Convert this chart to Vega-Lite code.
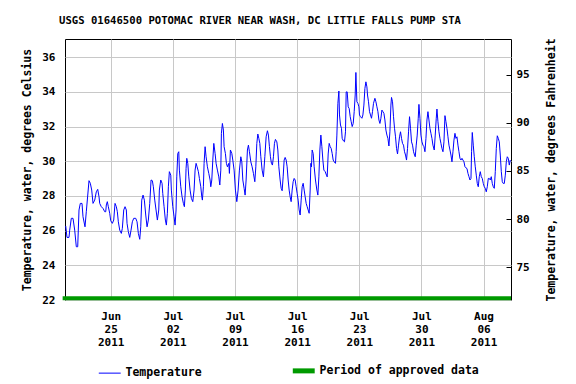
{
  "$schema": "https://vega.github.io/schema/vega-lite/v6.json",
  "width": 446,
  "height": 261,
  "autosize": {"type": "none"},
  "padding": {"left": 65, "top": 39, "right": 65, "bottom": 84},
  "background": "white",
  "title": {
    "text": "USGS 01646500 POTOMAC RIVER NEAR WASH, DC LITTLE FALLS PUMP STA",
    "font": "DejaVu Sans Mono",
    "fontSize": 10.6,
    "fontWeight": "bold",
    "color": "black",
    "anchor": "middle",
    "dx": -28,
    "offset": 11
  },
  "config": {
    "view": {"stroke": "black", "strokeWidth": 1},
    "font": "DejaVu Sans Mono",
    "axis": {
      "labelFont": "DejaVu Sans Mono",
      "labelFontWeight": "bold",
      "labelFontSize": 11,
      "labelColor": "black",
      "titleFont": "DejaVu Sans Mono",
      "titleFontWeight": "bold",
      "titleFontSize": 11.5,
      "titleColor": "black",
      "gridColor": "#c8c8c8",
      "gridOpacity": 1,
      "gridWidth": 1,
      "domain": false,
      "ticks": false,
      "tickSize": 0
    }
  },
  "datasets": {
    "temperature": [
      {"time":"2011-06-19T22:15","temp":26.27},
      {"time":"2011-06-20T01:46","temp":25.61},
      {"time":"2011-06-20T07:11","temp":25.61},
      {"time":"2011-06-20T09:04","temp":26.03},
      {"time":"2011-06-20T13:24","temp":26.71},
      {"time":"2011-06-20T18:00","temp":26.71},
      {"time":"2011-06-20T22:36","temp":26.03},
      {"time":"2011-06-21T02:56","temp":25.07},
      {"time":"2011-06-21T06:43","temp":25.07},
      {"time":"2011-06-21T10:14","temp":27.19},
      {"time":"2011-06-21T13:45","temp":27.57},
      {"time":"2011-06-21T18:21","temp":27.57},
      {"time":"2011-06-21T21:04","temp":26.80},
      {"time":"2011-06-22T02:28","temp":26.22},
      {"time":"2011-06-22T05:59","temp":27.09},
      {"time":"2011-06-22T13:17","temp":28.88},
      {"time":"2011-06-22T16:49","temp":28.73},
      {"time":"2011-06-22T20:35","temp":28.34},
      {"time":"2011-06-23T00:07","temp":27.57},
      {"time":"2011-06-23T04:43","temp":27.76},
      {"time":"2011-06-23T09:02","temp":28.24},
      {"time":"2011-06-23T12:50","temp":28.38},
      {"time":"2011-06-23T16:20","temp":27.95},
      {"time":"2011-06-23T18:14","temp":27.57},
      {"time":"2011-06-23T22:34","temp":27.38},
      {"time":"2011-06-24T03:10","temp":27.28},
      {"time":"2011-06-24T07:46","temp":27.09},
      {"time":"2011-06-24T10:28","temp":27.09},
      {"time":"2011-06-24T12:05","temp":27.48},
      {"time":"2011-06-24T14:48","temp":27.67},
      {"time":"2011-06-24T17:30","temp":27.38},
      {"time":"2011-06-24T21:17","temp":27.00},
      {"time":"2011-06-25T00:00","temp":26.57},
      {"time":"2011-06-25T04:20","temp":26.42},
      {"time":"2011-06-25T08:07","temp":26.61},
      {"time":"2011-06-25T11:38","temp":27.57},
      {"time":"2011-06-25T15:09","temp":27.38},
      {"time":"2011-06-25T17:52","temp":27.09},
      {"time":"2011-06-25T20:34","temp":26.51},
      {"time":"2011-06-26T00:21","temp":26.03},
      {"time":"2011-06-26T04:41","temp":25.84},
      {"time":"2011-06-26T07:23","temp":26.13},
      {"time":"2011-06-26T11:10","temp":27.19},
      {"time":"2011-06-26T14:41","temp":27.38},
      {"time":"2011-06-26T18:12","temp":27.19},
      {"time":"2011-06-26T20:06","temp":26.42},
      {"time":"2011-06-26T23:37","temp":25.94},
      {"time":"2011-06-27T03:24","temp":25.61},
      {"time":"2011-06-27T06:55","temp":26.03},
      {"time":"2011-06-27T10:26","temp":26.51},
      {"time":"2011-06-27T14:14","temp":26.71},
      {"time":"2011-06-27T19:38","temp":26.71},
      {"time":"2011-06-27T23:09","temp":26.51},
      {"time":"2011-06-28T02:40","temp":25.84},
      {"time":"2011-06-28T06:28","temp":25.50},
      {"time":"2011-06-28T09:10","temp":26.22},
      {"time":"2011-06-28T11:52","temp":27.76},
      {"time":"2011-06-28T15:23","temp":28.05},
      {"time":"2011-06-28T18:54","temp":27.76},
      {"time":"2011-06-28T22:41","temp":26.90},
      {"time":"2011-06-29T02:13","temp":26.22},
      {"time":"2011-06-29T05:44","temp":26.61},
      {"time":"2011-06-29T09:31","temp":27.57},
      {"time":"2011-06-29T13:02","temp":28.92},
      {"time":"2011-06-29T16:33","temp":28.88},
      {"time":"2011-06-29T19:15","temp":28.53},
      {"time":"2011-06-29T23:02","temp":27.76},
      {"time":"2011-06-30T02:34","temp":27.19},
      {"time":"2011-06-30T06:05","temp":26.61},
      {"time":"2011-06-30T09:52","temp":27.19},
      {"time":"2011-06-30T11:29","temp":28.34},
      {"time":"2011-06-30T15:16","temp":28.92},
      {"time":"2011-06-30T18:47","temp":28.73},
      {"time":"2011-06-30T20:41","temp":28.15},
      {"time":"2011-07-01T00:12","temp":27.38},
      {"time":"2011-07-01T03:43","temp":26.61},
      {"time":"2011-07-01T06:25","temp":26.32},
      {"time":"2011-07-01T09:08","temp":27.00},
      {"time":"2011-07-01T11:50","temp":28.53},
      {"time":"2011-07-01T14:32","temp":29.40},
      {"time":"2011-07-01T18:20","temp":29.20},
      {"time":"2011-07-01T19:57","temp":28.34},
      {"time":"2011-07-01T23:44","temp":27.38},
      {"time":"2011-07-02T03:16","temp":26.80},
      {"time":"2011-07-02T05:58","temp":26.32},
      {"time":"2011-07-02T08:40","temp":27.19},
      {"time":"2011-07-02T10:34","temp":29.10},
      {"time":"2011-07-02T13:16","temp":30.45},
      {"time":"2011-07-02T15:58","temp":30.55},
      {"time":"2011-07-02T17:36","temp":29.49},
      {"time":"2011-07-02T21:23","temp":28.53},
      {"time":"2011-07-03T00:54","temp":27.95},
      {"time":"2011-07-03T04:25","temp":27.57},
      {"time":"2011-07-03T07:07","temp":27.38},
      {"time":"2011-07-03T09:50","temp":28.34},
      {"time":"2011-07-03T11:43","temp":29.59},
      {"time":"2011-07-03T13:37","temp":30.17},
      {"time":"2011-07-03T16:19","temp":29.88},
      {"time":"2011-07-03T19:02","temp":29.10},
      {"time":"2011-07-03T22:33","temp":28.34},
      {"time":"2011-07-04T02:04","temp":27.86},
      {"time":"2011-07-04T05:51","temp":27.67},
      {"time":"2011-07-04T09:22","temp":28.34},
      {"time":"2011-07-04T12:04","temp":29.49},
      {"time":"2011-07-04T14:47","temp":29.88},
      {"time":"2011-07-04T17:29","temp":29.68},
      {"time":"2011-07-04T21:00","temp":29.40},
      {"time":"2011-07-04T23:43","temp":29.01},
      {"time":"2011-07-05T03:30","temp":28.53},
      {"time":"2011-07-05T06:12","temp":27.95},
      {"time":"2011-07-05T07:49","temp":27.76},
      {"time":"2011-07-05T10:32","temp":28.53},
      {"time":"2011-07-05T12:25","temp":29.88},
      {"time":"2011-07-05T15:08","temp":30.84},
      {"time":"2011-07-05T17:50","temp":30.26},
      {"time":"2011-07-05T21:21","temp":29.68},
      {"time":"2011-07-06T01:08","temp":29.30},
      {"time":"2011-07-06T04:40","temp":28.92},
      {"time":"2011-07-06T06:33","temp":28.53},
      {"time":"2011-07-06T09:15","temp":28.92},
      {"time":"2011-07-06T11:58","temp":30.07},
      {"time":"2011-07-06T14:40","temp":31.03},
      {"time":"2011-07-06T18:11","temp":30.45},
      {"time":"2011-07-06T20:53","temp":29.88},
      {"time":"2011-07-07T00:25","temp":29.49},
      {"time":"2011-07-07T04:11","temp":29.10},
      {"time":"2011-07-07T06:54","temp":28.63},
      {"time":"2011-07-07T09:36","temp":29.49},
      {"time":"2011-07-07T11:14","temp":31.61},
      {"time":"2011-07-07T13:56","temp":32.18},
      {"time":"2011-07-07T16:38","temp":31.80},
      {"time":"2011-07-07T18:32","temp":30.84},
      {"time":"2011-07-07T22:03","temp":30.45},
      {"time":"2011-07-08T00:45","temp":29.88},
      {"time":"2011-07-08T03:28","temp":29.68},
      {"time":"2011-07-08T07:15","temp":29.88},
      {"time":"2011-07-08T08:52","temp":29.30},
      {"time":"2011-07-08T11:35","temp":30.65},
      {"time":"2011-07-08T15:22","temp":30.45},
      {"time":"2011-07-08T18:04","temp":30.07},
      {"time":"2011-07-08T21:35","temp":29.49},
      {"time":"2011-07-09T01:06","temp":28.34},
      {"time":"2011-07-09T04:53","temp":27.67},
      {"time":"2011-07-09T08:25","temp":28.34},
      {"time":"2011-07-09T11:56","temp":29.49},
      {"time":"2011-07-09T15:43","temp":30.26},
      {"time":"2011-07-09T18:25","temp":29.97},
      {"time":"2011-07-09T21:07","temp":28.92},
      {"time":"2011-07-10T00:38","temp":28.44},
      {"time":"2011-07-10T03:21","temp":28.05},
      {"time":"2011-07-10T06:03","temp":28.92},
      {"time":"2011-07-10T09:34","temp":30.65},
      {"time":"2011-07-10T12:17","temp":30.93},
      {"time":"2011-07-10T14:59","temp":30.55},
      {"time":"2011-07-10T18:46","temp":29.97},
      {"time":"2011-07-10T22:17","temp":29.68},
      {"time":"2011-07-11T01:48","temp":29.30},
      {"time":"2011-07-11T05:35","temp":28.82},
      {"time":"2011-07-11T08:18","temp":29.68},
      {"time":"2011-07-11T11:00","temp":31.03},
      {"time":"2011-07-11T13:43","temp":31.57},
      {"time":"2011-07-11T16:25","temp":31.32},
      {"time":"2011-07-11T19:07","temp":31.03},
      {"time":"2011-07-11T21:49","temp":30.26},
      {"time":"2011-07-12T01:20","temp":29.49},
      {"time":"2011-07-12T04:52","temp":29.10},
      {"time":"2011-07-12T08:39","temp":30.26},
      {"time":"2011-07-12T12:10","temp":31.41},
      {"time":"2011-07-12T15:41","temp":31.76},
      {"time":"2011-07-12T18:23","temp":31.51},
      {"time":"2011-07-12T21:05","temp":30.84},
      {"time":"2011-07-12T23:48","temp":30.26},
      {"time":"2011-07-13T02:30","temp":29.88},
      {"time":"2011-07-13T05:13","temp":29.78},
      {"time":"2011-07-13T07:55","temp":30.26},
      {"time":"2011-07-13T10:37","temp":31.03},
      {"time":"2011-07-13T13:19","temp":31.26},
      {"time":"2011-07-13T17:07","temp":31.12},
      {"time":"2011-07-13T19:49","temp":30.65},
      {"time":"2011-07-13T22:31","temp":29.68},
      {"time":"2011-07-14T02:02","temp":28.92},
      {"time":"2011-07-14T04:45","temp":28.44},
      {"time":"2011-07-14T07:27","temp":28.30},
      {"time":"2011-07-14T10:10","temp":29.10},
      {"time":"2011-07-14T12:52","temp":30.07},
      {"time":"2011-07-14T15:34","temp":30.22},
      {"time":"2011-07-14T18:16","temp":30.07},
      {"time":"2011-07-14T20:59","temp":29.68},
      {"time":"2011-07-14T23:41","temp":28.92},
      {"time":"2011-07-15T02:23","temp":28.34},
      {"time":"2011-07-15T05:06","temp":27.95},
      {"time":"2011-07-15T07:48","temp":27.67},
      {"time":"2011-07-15T10:31","temp":28.34},
      {"time":"2011-07-15T13:13","temp":28.82},
      {"time":"2011-07-15T15:55","temp":29.01},
      {"time":"2011-07-15T18:37","temp":28.92},
      {"time":"2011-07-15T21:20","temp":28.53},
      {"time":"2011-07-16T00:02","temp":28.15},
      {"time":"2011-07-16T02:44","temp":27.76},
      {"time":"2011-07-16T05:26","temp":27.19},
      {"time":"2011-07-16T08:09","temp":26.90},
      {"time":"2011-07-16T10:52","temp":27.76},
      {"time":"2011-07-16T13:34","temp":28.53},
      {"time":"2011-07-16T16:16","temp":28.73},
      {"time":"2011-07-16T18:58","temp":28.34},
      {"time":"2011-07-16T21:41","temp":27.95},
      {"time":"2011-07-17T00:23","temp":27.57},
      {"time":"2011-07-17T03:05","temp":27.38},
      {"time":"2011-07-17T05:47","temp":27.19},
      {"time":"2011-07-17T08:30","temp":27.00},
      {"time":"2011-07-17T11:13","temp":28.34},
      {"time":"2011-07-17T13:06","temp":29.88},
      {"time":"2011-07-17T14:43","temp":29.68},
      {"time":"2011-07-17T16:37","temp":30.65},
      {"time":"2011-07-17T19:19","temp":30.45},
      {"time":"2011-07-17T22:02","temp":29.68},
      {"time":"2011-07-18T01:32","temp":28.92},
      {"time":"2011-07-18T05:20","temp":28.34},
      {"time":"2011-07-18T08:02","temp":28.05},
      {"time":"2011-07-18T10:44","temp":29.10},
      {"time":"2011-07-18T13:27","temp":30.65},
      {"time":"2011-07-18T16:09","temp":31.51},
      {"time":"2011-07-18T18:52","temp":30.84},
      {"time":"2011-07-18T21:34","temp":30.07},
      {"time":"2011-07-19T00:16","temp":29.49},
      {"time":"2011-07-19T03:47","temp":29.40},
      {"time":"2011-07-19T07:19","temp":29.20},
      {"time":"2011-07-19T09:12","temp":29.10},
      {"time":"2011-07-19T11:54","temp":30.42},
      {"time":"2011-07-19T14:37","temp":31.03},
      {"time":"2011-07-19T17:19","temp":30.84},
      {"time":"2011-07-19T20:01","temp":30.74},
      {"time":"2011-07-19T22:44","temp":30.45},
      {"time":"2011-07-20T01:26","temp":30.07},
      {"time":"2011-07-20T04:08","temp":29.97},
      {"time":"2011-07-20T07:39","temp":29.88},
      {"time":"2011-07-20T09:33","temp":30.55},
      {"time":"2011-07-20T11:26","temp":31.51},
      {"time":"2011-07-20T14:09","temp":33.34},
      {"time":"2011-07-20T16:51","temp":34.05},
      {"time":"2011-07-20T18:29","temp":32.67},
      {"time":"2011-07-20T21:11","temp":32.09},
      {"time":"2011-07-20T23:53","temp":31.90},
      {"time":"2011-07-21T01:47","temp":31.32},
      {"time":"2011-07-21T05:18","temp":31.17},
      {"time":"2011-07-21T08:00","temp":31.12},
      {"time":"2011-07-21T10:43","temp":31.70},
      {"time":"2011-07-21T12:36","temp":34.00},
      {"time":"2011-07-21T15:19","temp":34.00},
      {"time":"2011-07-21T18:01","temp":33.14},
      {"time":"2011-07-21T20:43","temp":33.04},
      {"time":"2011-07-21T23:26","temp":32.57},
      {"time":"2011-07-22T02:08","temp":32.28},
      {"time":"2011-07-22T04:50","temp":32.00},
      {"time":"2011-07-22T07:32","temp":32.18},
      {"time":"2011-07-22T10:15","temp":32.86},
      {"time":"2011-07-22T12:57","temp":33.82},
      {"time":"2011-07-22T14:50","temp":35.12},
      {"time":"2011-07-22T17:33","temp":33.43},
      {"time":"2011-07-22T20:16","temp":33.34},
      {"time":"2011-07-22T22:58","temp":33.14},
      {"time":"2011-07-23T00:35","temp":32.67},
      {"time":"2011-07-23T03:17","temp":32.57},
      {"time":"2011-07-23T07:05","temp":32.48},
      {"time":"2011-07-23T09:47","temp":32.67},
      {"time":"2011-07-23T12:29","temp":33.24},
      {"time":"2011-07-23T15:12","temp":34.20},
      {"time":"2011-07-23T17:54","temp":34.58},
      {"time":"2011-07-23T20:37","temp":34.29},
      {"time":"2011-07-23T22:14","temp":33.82},
      {"time":"2011-07-24T00:56","temp":33.43},
      {"time":"2011-07-24T03:38","temp":32.86},
      {"time":"2011-07-24T06:21","temp":32.67},
      {"time":"2011-07-24T09:03","temp":32.48},
      {"time":"2011-07-24T11:46","temp":32.86},
      {"time":"2011-07-24T14:28","temp":33.34},
      {"time":"2011-07-24T18:15","temp":33.63},
      {"time":"2011-07-24T20:58","temp":33.43},
      {"time":"2011-07-24T23:40","temp":33.14},
      {"time":"2011-07-25T02:22","temp":32.86},
      {"time":"2011-07-25T05:04","temp":32.38},
      {"time":"2011-07-25T07:47","temp":32.18},
      {"time":"2011-07-25T10:29","temp":32.48},
      {"time":"2011-07-25T13:11","temp":32.95},
      {"time":"2011-07-25T15:53","temp":32.86},
      {"time":"2011-07-25T18:36","temp":32.76},
      {"time":"2011-07-25T21:19","temp":32.38},
      {"time":"2011-07-26T00:01","temp":31.80},
      {"time":"2011-07-26T02:43","temp":31.51},
      {"time":"2011-07-26T05:25","temp":31.32},
      {"time":"2011-07-26T08:08","temp":30.88},
      {"time":"2011-07-26T10:50","temp":31.70},
      {"time":"2011-07-26T13:32","temp":33.24},
      {"time":"2011-07-26T15:10","temp":33.68},
      {"time":"2011-07-26T17:52","temp":33.43},
      {"time":"2011-07-26T20:34","temp":32.57},
      {"time":"2011-07-26T23:17","temp":31.90},
      {"time":"2011-07-27T01:59","temp":31.41},
      {"time":"2011-07-27T04:41","temp":30.74},
      {"time":"2011-07-27T07:23","temp":30.42},
      {"time":"2011-07-27T10:06","temp":30.93},
      {"time":"2011-07-27T12:49","temp":31.41},
      {"time":"2011-07-27T15:31","temp":31.70},
      {"time":"2011-07-27T18:13","temp":31.32},
      {"time":"2011-07-27T20:55","temp":31.03},
      {"time":"2011-07-27T23:38","temp":30.93},
      {"time":"2011-07-28T02:20","temp":30.55},
      {"time":"2011-07-28T05:02","temp":30.36},
      {"time":"2011-07-28T07:44","temp":30.07},
      {"time":"2011-07-28T10:27","temp":30.74},
      {"time":"2011-07-28T13:10","temp":31.70},
      {"time":"2011-07-28T15:52","temp":32.57},
      {"time":"2011-07-28T18:34","temp":31.90},
      {"time":"2011-07-28T21:16","temp":31.12},
      {"time":"2011-07-28T23:59","temp":30.93},
      {"time":"2011-07-29T02:41","temp":30.55},
      {"time":"2011-07-29T05:23","temp":30.36},
      {"time":"2011-07-29T07:17","temp":30.26},
      {"time":"2011-07-29T09:59","temp":30.93},
      {"time":"2011-07-29T12:41","temp":31.51},
      {"time":"2011-07-29T15:24","temp":32.48},
      {"time":"2011-07-29T17:17","temp":33.28},
      {"time":"2011-07-29T20:00","temp":32.48},
      {"time":"2011-07-29T22:42","temp":31.51},
      {"time":"2011-07-30T01:25","temp":31.12},
      {"time":"2011-07-30T04:07","temp":30.93},
      {"time":"2011-07-30T06:49","temp":30.84},
      {"time":"2011-07-30T09:32","temp":30.55},
      {"time":"2011-07-30T12:14","temp":31.32},
      {"time":"2011-07-30T14:56","temp":32.38},
      {"time":"2011-07-30T17:38","temp":32.86},
      {"time":"2011-07-30T20:21","temp":32.38},
      {"time":"2011-07-30T23:03","temp":31.90},
      {"time":"2011-07-31T01:46","temp":31.61},
      {"time":"2011-07-31T04:28","temp":31.32},
      {"time":"2011-07-31T07:10","temp":30.93},
      {"time":"2011-07-31T10:41","temp":30.65},
      {"time":"2011-07-31T13:23","temp":31.51},
      {"time":"2011-07-31T16:06","temp":32.48},
      {"time":"2011-07-31T17:59","temp":33.01},
      {"time":"2011-07-31T20:42","temp":32.28},
      {"time":"2011-07-31T23:24","temp":31.70},
      {"time":"2011-08-01T02:07","temp":31.32},
      {"time":"2011-08-01T04:49","temp":31.03},
      {"time":"2011-08-01T07:31","temp":30.74},
      {"time":"2011-08-01T10:14","temp":30.55},
      {"time":"2011-08-01T12:56","temp":31.12},
      {"time":"2011-08-01T15:38","temp":32.63},
      {"time":"2011-08-01T18:20","temp":32.28},
      {"time":"2011-08-01T21:03","temp":31.90},
      {"time":"2011-08-01T23:45","temp":31.41},
      {"time":"2011-08-02T02:28","temp":30.93},
      {"time":"2011-08-02T05:10","temp":30.65},
      {"time":"2011-08-02T07:52","temp":30.36},
      {"time":"2011-08-02T10:34","temp":29.97},
      {"time":"2011-08-02T13:17","temp":30.55},
      {"time":"2011-08-02T15:59","temp":31.22},
      {"time":"2011-08-02T18:41","temp":31.61},
      {"time":"2011-08-02T21:24","temp":31.32},
      {"time":"2011-08-03T00:06","temp":31.41},
      {"time":"2011-08-03T02:49","temp":30.93},
      {"time":"2011-08-03T05:31","temp":30.55},
      {"time":"2011-08-03T08:13","temp":30.17},
      {"time":"2011-08-03T10:55","temp":30.07},
      {"time":"2011-08-03T13:38","temp":30.17},
      {"time":"2011-08-03T16:20","temp":30.07},
      {"time":"2011-08-03T19:02","temp":29.97},
      {"time":"2011-08-03T21:45","temp":29.68},
      {"time":"2011-08-04T00:27","temp":29.62},
      {"time":"2011-08-04T03:10","temp":29.58},
      {"time":"2011-08-04T05:52","temp":29.30},
      {"time":"2011-08-04T08:34","temp":29.11},
      {"time":"2011-08-04T11:16","temp":28.92},
      {"time":"2011-08-04T13:59","temp":29.01},
      {"time":"2011-08-04T15:36","temp":30.55},
      {"time":"2011-08-04T17:30","temp":31.66},
      {"time":"2011-08-04T20:12","temp":30.93},
      {"time":"2011-08-04T22:55","temp":30.26},
      {"time":"2011-08-05T01:37","temp":29.68},
      {"time":"2011-08-05T04:19","temp":29.20},
      {"time":"2011-08-05T07:01","temp":28.72},
      {"time":"2011-08-05T09:44","temp":28.53},
      {"time":"2011-08-05T12:26","temp":29.11},
      {"time":"2011-08-05T15:08","temp":29.40},
      {"time":"2011-08-05T17:51","temp":29.11},
      {"time":"2011-08-05T20:33","temp":29.01},
      {"time":"2011-08-05T23:16","temp":28.72},
      {"time":"2011-08-06T01:58","temp":28.53},
      {"time":"2011-08-06T04:40","temp":28.44},
      {"time":"2011-08-06T07:22","temp":28.24},
      {"time":"2011-08-06T10:05","temp":28.53},
      {"time":"2011-08-06T12:47","temp":29.01},
      {"time":"2011-08-06T15:29","temp":29.01},
      {"time":"2011-08-06T18:12","temp":28.92},
      {"time":"2011-08-06T20:54","temp":29.11},
      {"time":"2011-08-06T23:37","temp":28.72},
      {"time":"2011-08-07T02:19","temp":28.53},
      {"time":"2011-08-07T05:01","temp":28.44},
      {"time":"2011-08-07T07:43","temp":29.40},
      {"time":"2011-08-07T10:26","temp":30.74},
      {"time":"2011-08-07T13:08","temp":31.47},
      {"time":"2011-08-07T15:50","temp":31.32},
      {"time":"2011-08-07T18:32","temp":31.12},
      {"time":"2011-08-07T21:15","temp":30.36},
      {"time":"2011-08-07T23:58","temp":29.40},
      {"time":"2011-08-08T02:40","temp":28.82},
      {"time":"2011-08-08T05:22","temp":28.72},
      {"time":"2011-08-08T08:04","temp":28.72},
      {"time":"2011-08-08T10:47","temp":29.20},
      {"time":"2011-08-08T13:29","temp":29.97},
      {"time":"2011-08-08T16:11","temp":30.26},
      {"time":"2011-08-08T18:53","temp":30.17},
      {"time":"2011-08-08T21:36","temp":29.78},
      {"time":"2011-08-09T00:18","temp":30.07}
    ],
    "approved": [
      {"start": "2011-06-19T14:00", "end": "2011-08-09T02:12", "level": 22.1}
    ]
  },
  "layer": [
    {
      "data": {"name": "temperature"},
      "mark": {"type": "line", "strokeWidth": 1, "interpolate": "linear"},
      "encoding": {
        "x": {
          "field": "time",
          "type": "temporal",
          "scale": {
            "domain": [
              {"year": 2011, "month": 6, "date": 19, "hours": 20, "minutes": 22},
              {"year": 2011, "month": 8, "date": 9, "hours": 2, "minutes": 12}
            ]
          },
          "axis": {
            "title": null,
            "grid": true,
            "values": [
              {"year": 2011, "month": 6, "date": 25},
              {"year": 2011, "month": 7, "date": 2},
              {"year": 2011, "month": 7, "date": 9},
              {"year": 2011, "month": 7, "date": 16},
              {"year": 2011, "month": 7, "date": 23},
              {"year": 2011, "month": 7, "date": 30},
              {"year": 2011, "month": 8, "date": 6}
            ],
            "labelExpr": "[timeFormat(datum.value, '%b'), timeFormat(datum.value, '%d'), timeFormat(datum.value, '%Y')]",
            "labelBaseline": "top",
            "labelAlign": "center",
            "labelPadding": 10,
            "labelLineHeight": 13,
            "labelFlush": false,
            "labelOverlap": false
          }
        },
        "y": {
          "field": "temp",
          "type": "quantitative",
          "scale": {"domain": [22, 37.05], "nice": false, "zero": false},
          "axis": {
            "title": "Temperature, water, degrees Celsius",
            "values": [22, 24, 26, 28, 30, 32, 34, 36],
            "grid": true,
            "labelPadding": 10,
            "titlePadding": 9
          }
        },
        "color": {
          "datum": "Temperature",
          "type": "nominal",
          "scale": {
            "domain": ["Temperature", "Period of approved data"],
            "range": ["#0000ff", "#009a00"]
          },
          "legend": {
            "title": null,
            "orient": "none",
            "legendX": 39,
            "legendY": 326,
            "direction": "horizontal",
            "symbolType": "stroke",
            "symbolSize": 480,
            "labelFont": "DejaVu Sans Mono",
            "labelFontWeight": "bold",
            "labelFontSize": 11.5,
            "labelColor": "black",
            "labelOffset": 10,
            "columnPadding": 80,
            "padding": 0,
            "encode": {
              "symbols": {
                "update": {
                  "strokeWidth": {"signal": "datum.value === 'Temperature' ? 1 : 5"}
                }
              }
            }
          }
        }
      }
    },
    {
      "data": {"name": "approved"},
      "mark": {"type": "rule", "strokeWidth": 4},
      "encoding": {
        "x": {"field": "start", "type": "temporal", "axis": {"title": null}},
        "x2": {"field": "end"},
        "y": {
          "field": "level",
          "type": "quantitative",
          "scale": {"domain": [22, 37.05], "nice": false, "zero": false},
          "axis": {
            "orient": "right",
            "title": "Temperature, water, degrees Fahrenheit",
            "titleAngle": 270,
            "titleBaseline": "top",
            "values": [23.8889, 26.6667, 29.4444, 32.2222, 35],
            "labelExpr": "format(datum.value * 1.8 + 32, '.0f')",
            "grid": false,
            "ticks": true,
            "tickSize": -5,
            "tickColor": "black",
            "labelPadding": 10,
            "titlePadding": 16
          }
        },
        "color": {"datum": "Period of approved data", "type": "nominal"}
      }
    }
  ],
  "resolve": {"scale": {"y": "independent"}}
}
